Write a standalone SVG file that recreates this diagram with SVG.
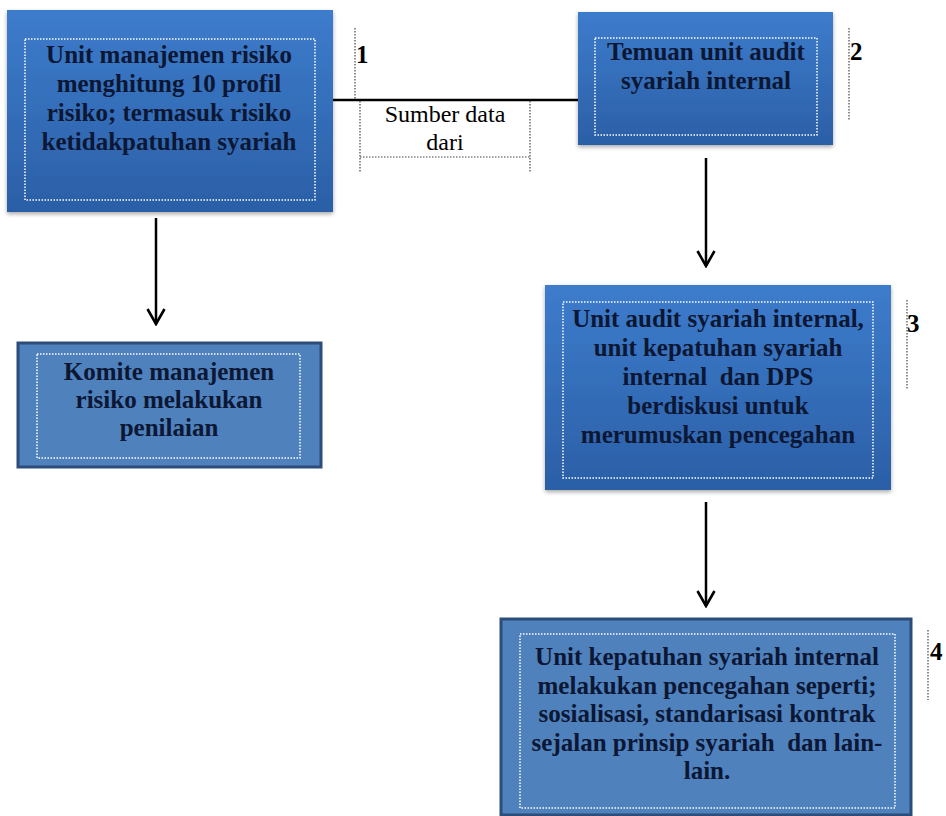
<svg xmlns="http://www.w3.org/2000/svg" width="946" height="816" viewBox="0 0 946 816">
<defs>
<linearGradient id="g" x1="0" y1="0" x2="0" y2="1">
<stop offset="0" stop-color="#3d7ccc"/>
<stop offset="1" stop-color="#2b5fa6"/>
</linearGradient>
<filter id="sh" x="-5%" y="-5%" width="110%" height="115%">
<feGaussianBlur in="SourceAlpha" stdDeviation="2"/>
<feOffset dx="0" dy="2"/>
<feComponentTransfer><feFuncA type="linear" slope="0.35"/></feComponentTransfer>
<feMerge><feMergeNode/><feMergeNode in="SourceGraphic"/></feMerge>
</filter>
<marker id="ah" viewBox="0 0 20 20" refX="18" refY="10" markerWidth="20" markerHeight="20" markerUnits="userSpaceOnUse" orient="auto">
<path d="M3,1.5 L18,10 L3,18.5" fill="none" stroke="#000" stroke-width="2.6"/>
</marker>
</defs>
<style>
.gb{fill:url(#g);filter:url(#sh);}
.fb{fill:#4f81bd;stroke:#2c4c7a;stroke-width:3;}
.dot{fill:none;stroke:#ffffff;stroke-width:1.5;stroke-dasharray:1.5 1.5;}
.t{font-family:"Liberation Serif","Times New Roman",serif;font-weight:bold;font-size:25px;fill:#0c1734;text-anchor:middle;}
.n{font-family:"Liberation Serif","Times New Roman",serif;font-weight:bold;font-size:25px;fill:#000;}
.lbl{font-family:"Liberation Serif","Times New Roman",serif;font-size:24px;fill:#000;text-anchor:middle;}
.dl{fill:none;stroke:#444;stroke-width:1.2;stroke-dasharray:1.5 1.5;}
.ln{fill:none;stroke:#000;stroke-width:2.5;}
</style>
<rect width="946" height="816" fill="#ffffff"/>

<g id="node1">
<rect class="gb" x="7" y="10" width="326" height="202"/>
<rect class="dot" x="25" y="39" width="290" height="161"/>
<text class="t" x="169" y="63">Unit manajemen risiko</text>
<text class="t" x="169" y="92">menghitung 10 profil</text>
<text class="t" x="169" y="121">risiko; termasuk risiko</text>
<text class="t" x="169" y="150">ketidakpatuhan syariah</text>
</g>

<g id="label1">
<line class="dl" x1="355" y1="28" x2="355" y2="100"/>
<text class="n" x="356" y="63">1</text>
</g>

<g id="node2">
<rect class="gb" x="578" y="12" width="255" height="133"/>
<rect class="dot" x="595" y="38" width="222" height="97"/>
<text class="t" x="706" y="60">Temuan unit audit</text>
<text class="t" x="706" y="89">syariah internal</text>
</g>

<g id="label2">
<line class="dl" x1="849" y1="28" x2="849" y2="120"/>
<text class="n" x="850" y="60">2</text>
</g>

<g id="node3">
<rect class="gb" x="545" y="285" width="346" height="205"/>
<rect class="dot" x="563" y="302" width="310" height="176"/>
<text class="t" x="718" y="327">Unit audit syariah internal,</text>
<text class="t" x="718" y="356">unit kepatuhan syariah</text>
<text class="t" x="718" y="385" xml:space="preserve">internal  dan DPS</text>
<text class="t" x="718" y="414">berdiskusi untuk</text>
<text class="t" x="718" y="443">merumuskan pencegahan</text>
</g>

<g id="label3">
<line class="dl" x1="907" y1="300" x2="907" y2="390"/>
<text class="n" x="907" y="332">3</text>
</g>

<g id="node4">
<rect class="fb" x="18" y="343" width="303" height="124"/>
<rect class="dot" x="37" y="354" width="263" height="104"/>
<text class="t" x="169" y="380">Komite manajemen</text>
<text class="t" x="169" y="408">risiko melakukan</text>
<text class="t" x="169" y="436">penilaian</text>
</g>

<g id="node5">
<rect class="fb" x="501" y="619" width="410" height="196"/>
<rect class="dot" x="520" y="634" width="375" height="174"/>
<text class="t" x="707" y="665">Unit kepatuhan syariah internal</text>
<text class="t" x="707" y="694">melakukan pencegahan seperti;</text>
<text class="t" x="707" y="722">sosialisasi, standarisasi kontrak</text>
<text class="t" x="707" y="751" xml:space="preserve">sejalan prinsip syariah  dan lain-</text>
<text class="t" x="707" y="779">lain.</text>
</g>

<g id="label4">
<line class="dl" x1="928" y1="630" x2="928" y2="700"/>
<text class="n" x="930" y="660">4</text>
</g>

<g id="connectors">
<line class="ln" x1="333" y1="100" x2="578" y2="100"/>
<line class="dl" x1="360" y1="101" x2="360" y2="173"/>
<line class="dl" x1="530" y1="101" x2="530" y2="173"/>
<line class="dl" x1="360" y1="157" x2="530" y2="157"/>
<text class="lbl" x="445" y="122">Sumber data</text>
<text class="lbl" x="445" y="150">dari</text>
<line class="ln" x1="156" y1="218" x2="156" y2="324" marker-end="url(#ah)"/>
<line class="ln" x1="706" y1="158" x2="706" y2="266" marker-end="url(#ah)"/>
<line class="ln" x1="706" y1="502" x2="706" y2="606" marker-end="url(#ah)"/>
</g>
</svg>
